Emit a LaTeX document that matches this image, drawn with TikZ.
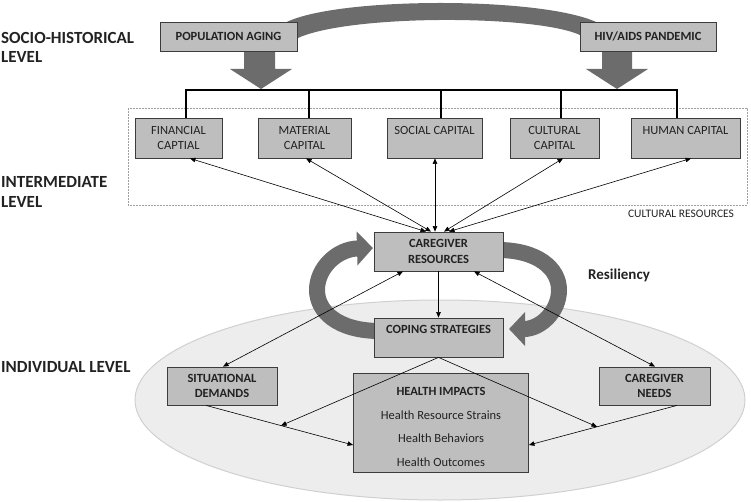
\documentclass[tikz,border=0pt]{standalone}
\usepackage{fontspec}
\setmainfont{Carlito}
\usetikzlibrary{arrows.meta,calc}
\definecolor{boxfill}{HTML}{BEBEBE}
\definecolor{boxline}{HTML}{3C3C3C}
\definecolor{band}{HTML}{6C6C6C}
\definecolor{ellfill}{HTML}{EDEDED}
\definecolor{elldraw}{HTML}{D0D0D0}
\definecolor{txt}{HTML}{222222}
\begin{document}
\begin{tikzpicture}[x=1pt,y=-1pt,
  gbox/.style={draw=boxline,fill=boxfill,line width=0.8pt,inner sep=0pt,align=center,text=txt},
  bt/.style={font=\bfseries\fontsize{12.5}{15.5}\selectfont},
  rt/.style={font=\fontsize{12.5}{15.5}\selectfont},
  lvl/.style={font=\bfseries\fontsize{17}{19.5}\selectfont,align=left,anchor=west,inner sep=0pt,text=txt},
  con/.style={line width=0.6pt,-{Triangle[length=5.5pt,width=4.5pt]}},
  bicon/.style={line width=0.6pt,{Triangle[length=5.5pt,width=4.5pt]}-{Triangle[length=5.5pt,width=4.5pt]}},
  bigarc/.style={draw=band,line width=16pt,-{Triangle[length=16pt,width=33pt]}},
]
\useasboundingbox (0,0) rectangle (751,502);

% individual level ellipse
\filldraw[fill=ellfill,draw=elldraw,line width=1pt] (440,400) ellipse [x radius=305pt, y radius=100pt];

% level labels
\node[lvl] (lsoc) at (1,47.5) {SOCIO-HISTORICAL\\LEVEL};
\node[lvl] (lint) at (1,192) {INTERMEDIATE\\LEVEL};
\node[lvl] (lind) at (1,367) {INDIVIDUAL LEVEL};

% top arc band between the two socio-historical boxes
\fill[band] (283,24) .. controls (330,-4) and (550,-4) .. (600,24) -- (582,36)
  .. controls (540,14) and (340,14) .. (294,40) -- cycle;

% big down arrows
\fill[band] (244,50) -- (275,50) -- (275,69) -- (292,69) -- (261,89) -- (230,69) -- (244,69) -- cycle;
\fill[band] (602,50) -- (632,50) -- (632,69) -- (648,69) -- (617,89) -- (586,69) -- (602,69) -- cycle;

% socio-historical boxes
\node[gbox,bt,minimum width=137pt,minimum height=29pt] (pop) at (228.5,36.5) {POPULATION AGING};
\node[gbox,bt,minimum width=136pt,minimum height=29pt] (hiv) at (648,36.5) {HIV/AIDS PANDEMIC};

% cultural resources frame
\draw[draw=gray!75,line width=0.6pt,dash pattern=on 2pt off 1pt] (128,108) rectangle (747,205);
\node[rt,font=\fontsize{11.5}{14}\selectfont,text=txt,inner sep=0pt] (crl) at (681,214) {CULTURAL RESOURCES};

% capital boxes
\node[gbox,rt,minimum width=87pt,minimum height=40pt] (fin) at (178.5,138) {FINANCIAL\\CAPTIAL};
\node[gbox,rt,minimum width=93pt,minimum height=40pt] (mat) at (304.5,138) {MATERIAL\\CAPITAL};
\node[gbox,rt,minimum width=95pt,minimum height=40pt] (soc) at (434.5,138) {SOCIAL CAPITAL\\\mbox{}};
\node[gbox,rt,minimum width=89pt,minimum height=40pt] (cul) at (554.5,138) {CULTURAL\\CAPITAL};
\node[gbox,rt,minimum width=109pt,minimum height=40pt] (hum) at (685.5,138) {HUMAN CAPITAL\\\mbox{}};

% bus
\coordinate (d1) at (186,90);
\coordinate (d2) at (309,90);
\coordinate (d3) at (441,90);
\coordinate (d4) at (561,90);
\coordinate (d5) at (677,90);
\draw[line width=1.3pt,line cap=rect] (d1) -- (d5);
\draw[line width=1.1pt] (d1) -- (d1 |- fin.north);
\draw[line width=1.1pt] (d2) -- (d2 |- mat.north);
\draw[line width=1.1pt] (d3) -- (d3 |- soc.north);
\draw[line width=1.1pt] (d4) -- (d4 |- cul.north);
\draw[line width=1.1pt] (d5) -- (d5 |- hum.north);

% resiliency loop
\draw[bigarc] (380,331) .. controls (337,331) and (317,311) .. (317,290)
  .. controls (317,268) and (337,249) .. (373,248);
\draw[bigarc] (498,250) .. controls (537,250) and (559,268) .. (559,290)
  .. controls (559,312) and (540,329) .. (509,329);
\node[font=\bfseries\fontsize{15}{18}\selectfont,text=txt,inner sep=0pt] (res) at (619,275) {Resiliency};

% caregiver / coping
\node[gbox,bt,minimum width=129pt,minimum height=39pt] (cr) at (438.5,251.5) {CAREGIVER\\RESOURCES};
\node[gbox,bt,minimum width=129pt,minimum height=39pt] (cs) at (438.5,337.5) {COPING STRATEGIES\\\mbox{}};

% individual boxes
\node[gbox,bt,minimum width=110pt,minimum height=38pt] (sd) at (222,386) {SITUATIONAL\\DEMANDS};
\node[gbox,bt,minimum width=111pt,minimum height=38pt] (cn) at (654.5,386) {CAREGIVER\\NEEDS};
\node[gbox,rt,minimum width=175pt,minimum height=99pt,font=\fontsize{12.5}{23.5}\selectfont] (hi) at (441,422.5)
  {\rule{0pt}{17pt}\bfseries HEALTH IMPACTS\\Health Resource Strains\\Health Behaviors\\Health Outcomes};

% capitals <-> caregiver resources
\draw[bicon] (fin.south -| 190,0) -- (cr.north -| 426,0);
\draw[bicon] (mat.south -| 306,0) -- (cr.north -| 431,0);
\draw[bicon] (soc.south -| 435,0) -- (cr.north -| 435,0);
\draw[bicon] (cul.south -| 563,0) -- (cr.north -| 444,0);
\draw[bicon] (hum.south -| 691,0) -- (cr.north -| 449,0);

% caregiver resources -> coping
\draw[con] (cr.south) -- (cs.north);

% demands / needs <-> caregiver resources
\draw[bicon] (sd.north -| 223,0) -- (cr.south -| 403,0);
\draw[bicon] (cn.north -| 655,0) -- (cr.south -| 474,0);

% demands / needs -> health impacts
\coordinate (sdo) at (sd.south -| 206,0);
\coordinate (cno) at (cn.south -| 677,0);
\coordinate (hil) at (hi.west |- 0,445);
\coordinate (hir) at (hi.east |- 0,445);
\draw[con] (sdo) -- (hil);
\draw[con] (cno) -- (hir);
\coordinate (ml) at ($(sdo)!0.51!(hil)$);
\coordinate (mr) at ($(cno)!0.54!(hir)$);
\draw[con] (cs.south) -- (ml);
\draw[con] (cs.south) -- (mr);
\end{tikzpicture}
\end{document}
